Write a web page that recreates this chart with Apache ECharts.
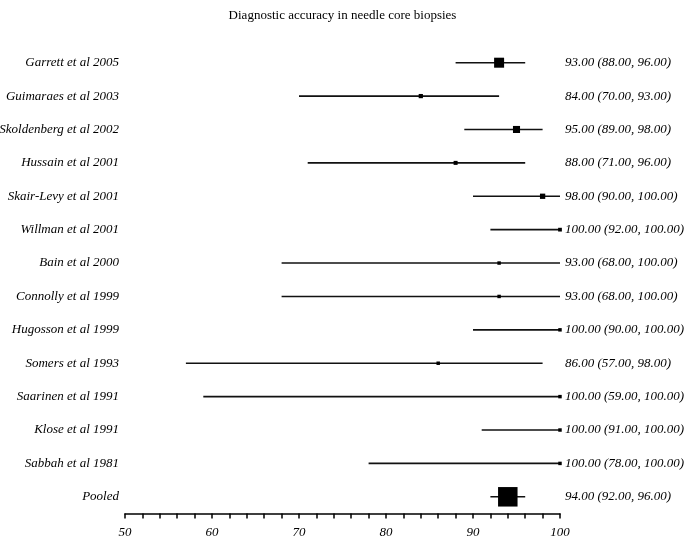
<!DOCTYPE html>
<html>
<head>
<meta charset="utf-8">
<script src="https://cdn.jsdelivr.net/npm/echarts@6/dist/echarts.min.js"></script>
<style>
  html, body { margin: 0; padding: 0; background: #fff; }
  #chart { width: 685px; height: 537px; }
</style>
</head>
<body>
<div id="chart"></div>
<script>
// studies, top to bottom
const studies = ['Garrett et al 2005', 'Guimaraes et al 2003', 'Skoldenberg et al 2002', 'Hussain et al 2001',
  'Skair-Levy et al 2001', 'Willman et al 2001', 'Bain et al 2000', 'Connolly et al 1999', 'Hugosson et al 1999',
  'Somers et al 1993', 'Saarinen et al 1991', 'Klose et al 1991', 'Sabbah et al 1981', 'Pooled'];
const estimate = [93, 84, 95, 88, 98, 100, 93, 93, 100, 86, 100, 100, 100, 94];
const lower = [88, 70, 89, 71, 90, 92, 68, 68, 90, 57, 59, 91, 78, 92];
const upper = [96, 93, 98, 96, 100, 100, 100, 100, 100, 98, 100, 100, 100, 96];
// relative study weight (drives box size)
const weight = [100, 18, 50, 16, 28, 14, 12, 12, 12, 12, 12, 12, 12, 380];
const xTicks = [50, 60, 70, 80, 90, 100];

const fmt = v => v.toFixed(2);
const ciText = studies.map((s, i) => `${fmt(estimate[i])} (${fmt(lower[i])}, ${fmt(upper[i])})`);

const rows = studies.map((s, i) => [estimate[i], i, lower[i], upper[i], weight[i]]);

const chart = echarts.init(document.getElementById('chart'));
const serif = '"Liberation Serif", "DejaVu Serif", serif';

chart.setOption({
  animation: false,
  title: {
    text: 'Diagnostic accuracy in needle core biopsies',
    left: 'center', top: 4,
    textStyle: { fontFamily: serif, fontSize: 13, fontWeight: 'normal', color: '#000' }
  },
  grid: { left: 125, right: 125, top: 46, bottom: 23.5, outerBoundsMode: 'none', containLabel: false },
  xAxis: {
    type: 'value', min: 50, max: 100, interval: 2,
    axisLine: { show: true, onZero: false, lineStyle: { color: '#000', width: 1.5 } },
    axisTick: { show: true, length: 5, lineStyle: { color: '#000', width: 1.5 } },
    splitLine: { show: false },
    axisLabel: {
      margin: 13, fontFamily: serif, fontStyle: 'italic', fontSize: 13, color: '#000',
      formatter: v => xTicks.includes(v) ? String(v) : ''
    }
  },
  yAxis: [{
    type: 'category', inverse: true, data: studies,
    axisLine: { show: false }, axisTick: { show: false }, splitLine: { show: false },
    axisLabel: { margin: 6, fontFamily: serif, fontStyle: 'italic', fontSize: 13, color: '#000' }
  }, {
    type: 'category', inverse: true, position: 'right', data: ciText,
    axisLine: { show: false }, axisTick: { show: false }, splitLine: { show: false },
    axisLabel: { margin: 5, fontFamily: serif, fontStyle: 'italic', fontSize: 13, color: '#000', align: 'left' }
  }],
  series: [{
    type: 'custom',
    data: rows,
    renderItem: (params, api) => {
      const est = api.coord([api.value(0), api.value(1)]);
      const lo = api.coord([api.value(2), api.value(1)]);
      const hi = api.coord([api.value(3), api.value(1)]);
      const s = Math.sqrt(api.value(4));
      return {
        type: 'group',
        children: [{
          type: 'line',
          shape: { x1: lo[0], y1: lo[1], x2: hi[0], y2: hi[1] },
          style: { stroke: '#111', lineWidth: 1.6 }
        }, {
          type: 'rect',
          shape: { x: est[0] - s / 2, y: est[1] - s / 2, width: s, height: s },
          style: { fill: '#000' }
        }]
      };
    }
  }]
});
</script>
</body>
</html>
